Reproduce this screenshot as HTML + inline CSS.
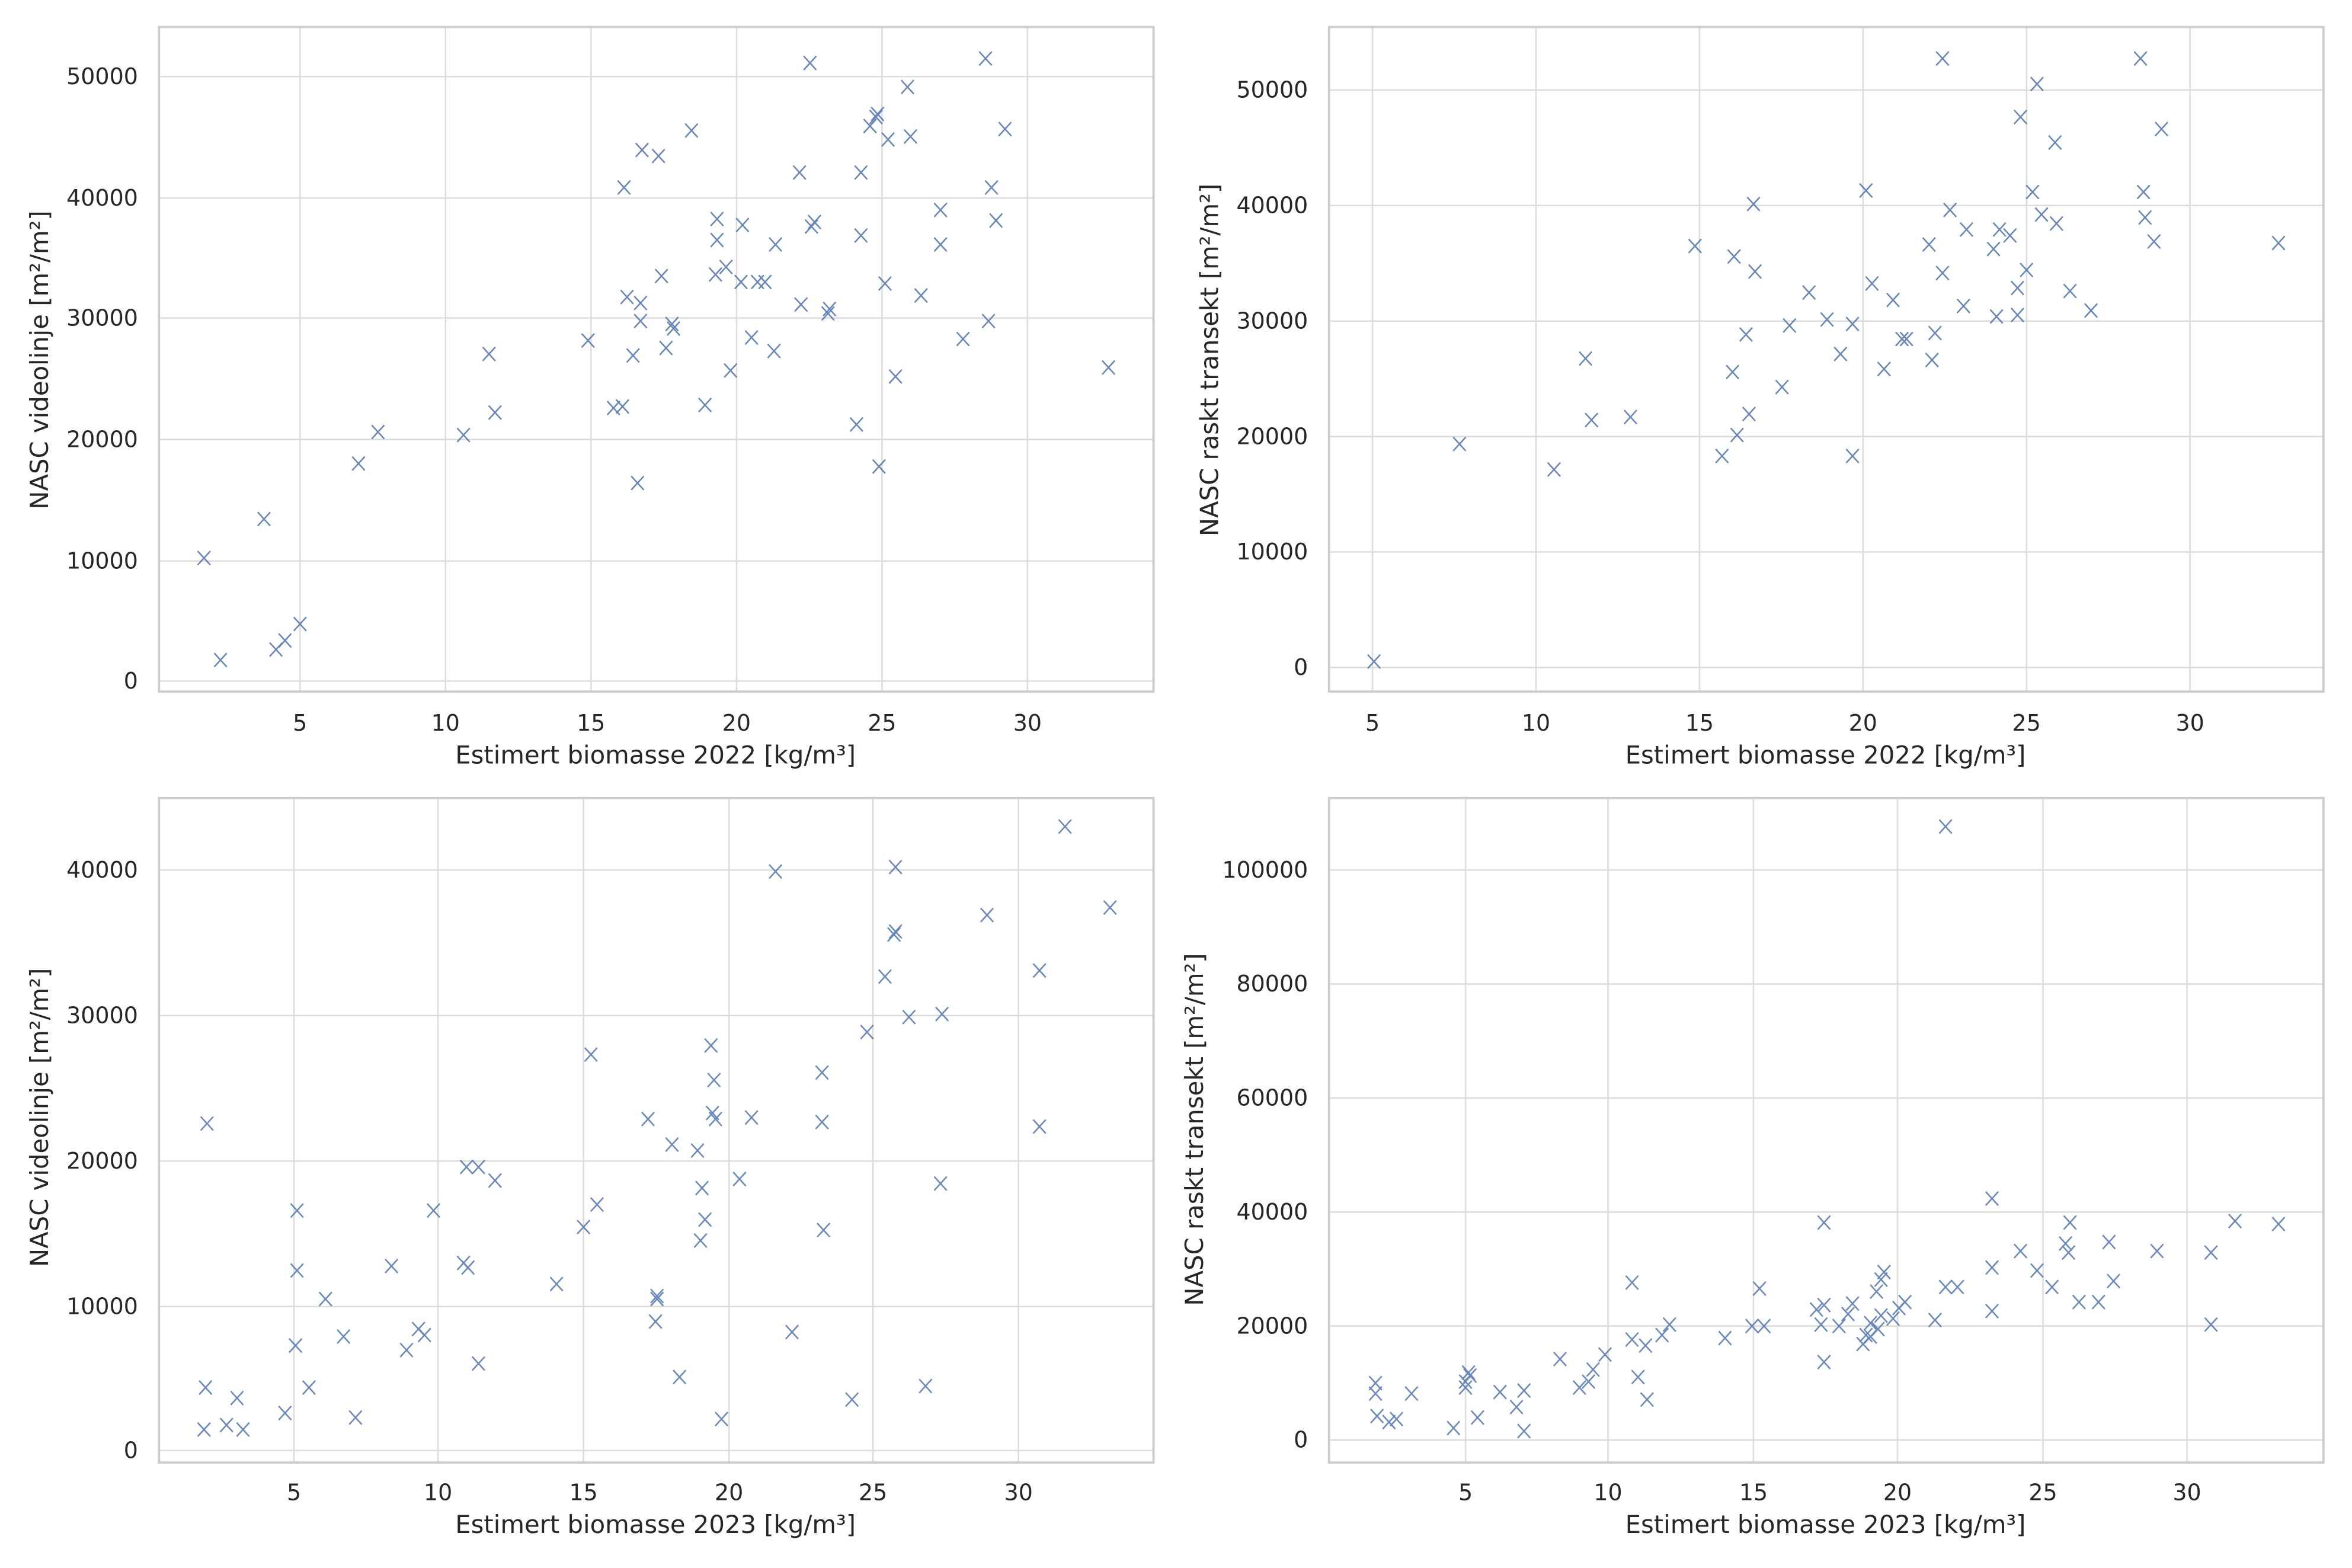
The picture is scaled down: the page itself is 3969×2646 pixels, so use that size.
<!DOCTYPE html>
<html><head><meta charset="utf-8"><style>html,body{margin:0;padding:0;background:#fff}svg{display:block}</style></head>
<body>
<svg xmlns="http://www.w3.org/2000/svg" xmlns:xlink="http://www.w3.org/1999/xlink" width="3969" height="2646" viewBox="0 0 1568 1045.3" preserveAspectRatio="none">
<defs><path id="m" d="M-4.2,-4.6L4.2,4.6M4.2,-4.6L-4.2,4.6" stroke="#4c72b0" stroke-width="1" fill="none"/></defs>
<rect width="1568" height="1046" fill="#fff"/>
<g font-family="DejaVu Sans, Liberation Sans, sans-serif" fill="#262626">

<!-- TL -->
<g stroke="#dcdcdc" stroke-width="1">
<path d="M200,18V461M297,18V461M394,18V461M491,18V461M588,18V461M685,18V461M106,454H769M106,374H769M106,293H769M106,212H769M106,132H769M106,51H769"/>
</g>
<rect x="106" y="18" width="663" height="443" fill="none" stroke="#cccccc" stroke-width="1.5"/>
<g font-size="15" text-anchor="end"><text x="92" y="459">0</text><text x="92" y="379">10000</text><text x="92" y="298">20000</text><text x="92" y="217">30000</text><text x="92" y="137">40000</text><text x="92" y="56">50000</text></g>
<g font-size="15" text-anchor="middle"><text x="200" y="487">5</text><text x="297" y="487">10</text><text x="394" y="487">15</text><text x="491" y="487">20</text><text x="588" y="487">25</text><text x="685" y="487">30</text></g>
<text x="437" y="509" font-size="16.5" text-anchor="middle">Estimert biomasse 2022 [kg/m³]</text>
<text transform="translate(32,240) rotate(-90)" font-size="16.5" text-anchor="middle">NASC videolinje [m²/m²]</text>

<!-- TR -->
<g stroke="#dcdcdc" stroke-width="1">
<path d="M915,18V461M1024,18V461M1133,18V461M1242,18V461M1351,18V461M1460,18V461M886,445H1549M886,368H1549M886,291H1549M886,214H1549M886,137H1549M886,60H1549"/>
</g>
<rect x="886" y="18" width="663" height="443" fill="none" stroke="#cccccc" stroke-width="1.5"/>
<g font-size="15" text-anchor="end"><text x="872" y="450">0</text><text x="872" y="373">10000</text><text x="872" y="296">20000</text><text x="872" y="219">30000</text><text x="872" y="142">40000</text><text x="872" y="65">50000</text></g>
<g font-size="15" text-anchor="middle"><text x="915" y="487">5</text><text x="1024" y="487">10</text><text x="1133" y="487">15</text><text x="1242" y="487">20</text><text x="1351" y="487">25</text><text x="1460" y="487">30</text></g>
<text x="1217" y="509" font-size="16.5" text-anchor="middle">Estimert biomasse 2022 [kg/m³]</text>
<text transform="translate(812,240) rotate(-90)" font-size="16.5" text-anchor="middle">NASC raskt transekt [m²/m²]</text>

<!-- BL -->
<g stroke="#dcdcdc" stroke-width="1">
<path d="M196,532V975M292,532V975M389,532V975M486,532V975M582,532V975M679,532V975M106,967H769M106,871H769M106,774H769M106,677H769M106,580H769"/>
</g>
<rect x="106" y="532" width="663" height="443" fill="none" stroke="#cccccc" stroke-width="1.5"/>
<g font-size="15" text-anchor="end"><text x="92" y="972">0</text><text x="92" y="876">10000</text><text x="92" y="779">20000</text><text x="92" y="682">30000</text><text x="92" y="585">40000</text></g>
<g font-size="15" text-anchor="middle"><text x="196" y="1000">5</text><text x="292" y="1000">10</text><text x="389" y="1000">15</text><text x="486" y="1000">20</text><text x="582" y="1000">25</text><text x="679" y="1000">30</text></g>
<text x="437" y="1022" font-size="16.5" text-anchor="middle">Estimert biomasse 2023 [kg/m³]</text>
<text transform="translate(32,745) rotate(-90)" font-size="16.5" text-anchor="middle">NASC videolinje [m²/m²]</text>

<!-- BR -->
<g stroke="#dcdcdc" stroke-width="1">
<path d="M977,532V975M1072,532V975M1169,532V975M1265,532V975M1362,532V975M1458,532V975M886,960H1549M886,884H1549M886,808H1549M886,732H1549M886,656H1549M886,580H1549"/>
</g>
<rect x="886" y="532" width="663" height="443" fill="none" stroke="#cccccc" stroke-width="1.5"/>
<g font-size="15" text-anchor="end"><text x="872" y="965">0</text><text x="872" y="889">20000</text><text x="872" y="813">40000</text><text x="872" y="737">60000</text><text x="872" y="661">80000</text><text x="872" y="585">100000</text></g>
<g font-size="15" text-anchor="middle"><text x="977" y="1000">5</text><text x="1072" y="1000">10</text><text x="1169" y="1000">15</text><text x="1265" y="1000">20</text><text x="1362" y="1000">25</text><text x="1458" y="1000">30</text></g>
<text x="1217" y="1022" font-size="16.5" text-anchor="middle">Estimert biomasse 2023 [kg/m³]</text>
<text transform="translate(802,753) rotate(-90)" font-size="16.5" text-anchor="middle">NASC raskt transekt [m²/m²]</text>
</g>

<!-- markers TL -->
<g opacity="0.85">
<use href="#m" x="136" y="372"/><use href="#m" x="147" y="440"/><use href="#m" x="176" y="346"/><use href="#m" x="184" y="433"/><use href="#m" x="190" y="427"/><use href="#m" x="200" y="416"/><use href="#m" x="239" y="309"/><use href="#m" x="252" y="288"/><use href="#m" x="309" y="290"/><use href="#m" x="326" y="236"/><use href="#m" x="330" y="275"/><use href="#m" x="392" y="227"/><use href="#m" x="409" y="272"/><use href="#m" x="415" y="271"/><use href="#m" x="416" y="125"/><use href="#m" x="418" y="198"/><use href="#m" x="422" y="237"/><use href="#m" x="425" y="322"/><use href="#m" x="428" y="100"/><use href="#m" x="427" y="214"/><use href="#m" x="427" y="202"/><use href="#m" x="439" y="104"/><use href="#m" x="441" y="184"/><use href="#m" x="444" y="232"/><use href="#m" x="448" y="216"/><use href="#m" x="449" y="219"/><use href="#m" x="461" y="87"/><use href="#m" x="470" y="270"/><use href="#m" x="477" y="183"/><use href="#m" x="478" y="146"/><use href="#m" x="478" y="160"/><use href="#m" x="484" y="178"/><use href="#m" x="487" y="247"/><use href="#m" x="494" y="188"/><use href="#m" x="495" y="150"/><use href="#m" x="501" y="225"/><use href="#m" x="505" y="188"/><use href="#m" x="510" y="188"/><use href="#m" x="516" y="234"/><use href="#m" x="517" y="163"/><use href="#m" x="533" y="115"/><use href="#m" x="534" y="203"/><use href="#m" x="540" y="42"/><use href="#m" x="541" y="151"/><use href="#m" x="543" y="148"/><use href="#m" x="552" y="209"/><use href="#m" x="553" y="206"/><use href="#m" x="571" y="283"/><use href="#m" x="574" y="157"/><use href="#m" x="574" y="115"/><use href="#m" x="580" y="84"/><use href="#m" x="584" y="78"/><use href="#m" x="585" y="76"/><use href="#m" x="586" y="311"/><use href="#m" x="590" y="189"/><use href="#m" x="592" y="93"/><use href="#m" x="597" y="251"/><use href="#m" x="605" y="58"/><use href="#m" x="607" y="91"/><use href="#m" x="614" y="197"/><use href="#m" x="627" y="140"/><use href="#m" x="627" y="163"/><use href="#m" x="642" y="226"/><use href="#m" x="657" y="39"/><use href="#m" x="659" y="214"/><use href="#m" x="661" y="125"/><use href="#m" x="664" y="147"/><use href="#m" x="670" y="86"/><use href="#m" x="739" y="245"/>
</g>
<!-- markers TR -->
<g opacity="0.85">
<use href="#m" x="916" y="441"/><use href="#m" x="973" y="296"/><use href="#m" x="1036" y="313"/><use href="#m" x="1057" y="239"/><use href="#m" x="1061" y="280"/><use href="#m" x="1087" y="278"/><use href="#m" x="1130" y="164"/><use href="#m" x="1148" y="304"/><use href="#m" x="1156" y="171"/><use href="#m" x="1155" y="248"/><use href="#m" x="1158" y="290"/><use href="#m" x="1164" y="223"/><use href="#m" x="1166" y="276"/><use href="#m" x="1169" y="136"/><use href="#m" x="1170" y="181"/><use href="#m" x="1188" y="258"/><use href="#m" x="1193" y="217"/><use href="#m" x="1206" y="195"/><use href="#m" x="1218" y="213"/><use href="#m" x="1227" y="236"/><use href="#m" x="1235" y="216"/><use href="#m" x="1235" y="304"/><use href="#m" x="1244" y="127"/><use href="#m" x="1248" y="189"/><use href="#m" x="1256" y="246"/><use href="#m" x="1262" y="200"/><use href="#m" x="1268" y="226"/><use href="#m" x="1271" y="226"/><use href="#m" x="1286" y="163"/><use href="#m" x="1290" y="222"/><use href="#m" x="1288" y="240"/><use href="#m" x="1295" y="39"/><use href="#m" x="1295" y="182"/><use href="#m" x="1300" y="140"/><use href="#m" x="1309" y="204"/><use href="#m" x="1311" y="153"/><use href="#m" x="1329" y="166"/><use href="#m" x="1331" y="211"/><use href="#m" x="1333" y="153"/><use href="#m" x="1340" y="157"/><use href="#m" x="1345" y="210"/><use href="#m" x="1345" y="192"/><use href="#m" x="1347" y="78"/><use href="#m" x="1351" y="180"/><use href="#m" x="1355" y="128"/><use href="#m" x="1358" y="56"/><use href="#m" x="1361" y="143"/><use href="#m" x="1370" y="95"/><use href="#m" x="1371" y="149"/><use href="#m" x="1380" y="194"/><use href="#m" x="1394" y="207"/><use href="#m" x="1427" y="39"/><use href="#m" x="1429" y="128"/><use href="#m" x="1430" y="145"/><use href="#m" x="1436" y="161"/><use href="#m" x="1441" y="86"/><use href="#m" x="1519" y="162"/>
</g>
<!-- markers BL -->
<g opacity="0.85">
<use href="#m" x="138" y="749"/><use href="#m" x="137" y="925"/><use href="#m" x="136" y="953"/><use href="#m" x="151" y="950"/><use href="#m" x="158" y="932"/><use href="#m" x="162" y="953"/><use href="#m" x="190" y="942"/><use href="#m" x="198" y="807"/><use href="#m" x="198" y="847"/><use href="#m" x="197" y="897"/><use href="#m" x="206" y="925"/><use href="#m" x="217" y="866"/><use href="#m" x="229" y="891"/><use href="#m" x="237" y="945"/><use href="#m" x="261" y="844"/><use href="#m" x="271" y="900"/><use href="#m" x="279" y="886"/><use href="#m" x="283" y="890"/><use href="#m" x="289" y="807"/><use href="#m" x="309" y="842"/><use href="#m" x="311" y="778"/><use href="#m" x="312" y="845"/><use href="#m" x="319" y="778"/><use href="#m" x="319" y="909"/><use href="#m" x="330" y="787"/><use href="#m" x="371" y="856"/><use href="#m" x="389" y="818"/><use href="#m" x="394" y="703"/><use href="#m" x="398" y="803"/><use href="#m" x="432" y="746"/><use href="#m" x="437" y="881"/><use href="#m" x="438" y="864"/><use href="#m" x="438" y="866"/><use href="#m" x="448" y="763"/><use href="#m" x="453" y="918"/><use href="#m" x="465" y="767"/><use href="#m" x="468" y="792"/><use href="#m" x="467" y="827"/><use href="#m" x="470" y="813"/><use href="#m" x="474" y="697"/><use href="#m" x="475" y="742"/><use href="#m" x="476" y="720"/><use href="#m" x="477" y="746"/><use href="#m" x="481" y="946"/><use href="#m" x="493" y="786"/><use href="#m" x="501" y="745"/><use href="#m" x="517" y="581"/><use href="#m" x="528" y="888"/><use href="#m" x="548" y="715"/><use href="#m" x="548" y="748"/><use href="#m" x="549" y="820"/><use href="#m" x="568" y="933"/><use href="#m" x="578" y="688"/><use href="#m" x="590" y="651"/><use href="#m" x="597" y="578"/><use href="#m" x="597" y="621"/><use href="#m" x="596" y="623"/><use href="#m" x="606" y="678"/><use href="#m" x="617" y="924"/><use href="#m" x="627" y="789"/><use href="#m" x="628" y="676"/><use href="#m" x="658" y="610"/><use href="#m" x="693" y="647"/><use href="#m" x="693" y="751"/><use href="#m" x="710" y="551"/><use href="#m" x="740" y="605"/>
</g>
<!-- markers BR -->
<g opacity="0.85">
<use href="#m" x="917" y="922"/><use href="#m" x="917" y="929"/><use href="#m" x="918" y="944"/><use href="#m" x="926" y="948"/><use href="#m" x="931" y="946"/><use href="#m" x="941" y="929"/><use href="#m" x="969" y="952"/><use href="#m" x="977" y="925"/><use href="#m" x="979" y="915"/><use href="#m" x="977" y="921"/><use href="#m" x="980" y="917"/><use href="#m" x="985" y="945"/><use href="#m" x="1000" y="928"/><use href="#m" x="1011" y="938"/><use href="#m" x="1016" y="927"/><use href="#m" x="1016" y="954"/><use href="#m" x="1040" y="906"/><use href="#m" x="1053" y="925"/><use href="#m" x="1059" y="921"/><use href="#m" x="1062" y="913"/><use href="#m" x="1070" y="903"/><use href="#m" x="1088" y="855"/><use href="#m" x="1088" y="893"/><use href="#m" x="1092" y="918"/><use href="#m" x="1097" y="897"/><use href="#m" x="1098" y="933"/><use href="#m" x="1108" y="890"/><use href="#m" x="1113" y="883"/><use href="#m" x="1150" y="892"/><use href="#m" x="1168" y="884"/><use href="#m" x="1173" y="859"/><use href="#m" x="1176" y="884"/><use href="#m" x="1211" y="873"/><use href="#m" x="1214" y="883"/><use href="#m" x="1216" y="870"/><use href="#m" x="1216" y="815"/><use href="#m" x="1216" y="908"/><use href="#m" x="1226" y="884"/><use href="#m" x="1232" y="876"/><use href="#m" x="1235" y="869"/><use href="#m" x="1242" y="896"/><use href="#m" x="1244" y="890"/><use href="#m" x="1247" y="891"/><use href="#m" x="1247" y="882"/><use href="#m" x="1251" y="861"/><use href="#m" x="1252" y="886"/><use href="#m" x="1254" y="877"/><use href="#m" x="1254" y="853"/><use href="#m" x="1256" y="848"/><use href="#m" x="1262" y="879"/><use href="#m" x="1266" y="872"/><use href="#m" x="1270" y="868"/><use href="#m" x="1290" y="880"/><use href="#m" x="1297" y="858"/><use href="#m" x="1297" y="551"/><use href="#m" x="1305" y="858"/><use href="#m" x="1328" y="799"/><use href="#m" x="1328" y="874"/><use href="#m" x="1328" y="845"/><use href="#m" x="1347" y="834"/><use href="#m" x="1358" y="847"/><use href="#m" x="1368" y="858"/><use href="#m" x="1379" y="835"/><use href="#m" x="1377" y="829"/><use href="#m" x="1380" y="815"/><use href="#m" x="1386" y="868"/><use href="#m" x="1399" y="868"/><use href="#m" x="1406" y="828"/><use href="#m" x="1409" y="854"/><use href="#m" x="1438" y="834"/><use href="#m" x="1474" y="835"/><use href="#m" x="1474" y="883"/><use href="#m" x="1490" y="814"/><use href="#m" x="1519" y="816"/>
</g>
</svg>
</body></html>
